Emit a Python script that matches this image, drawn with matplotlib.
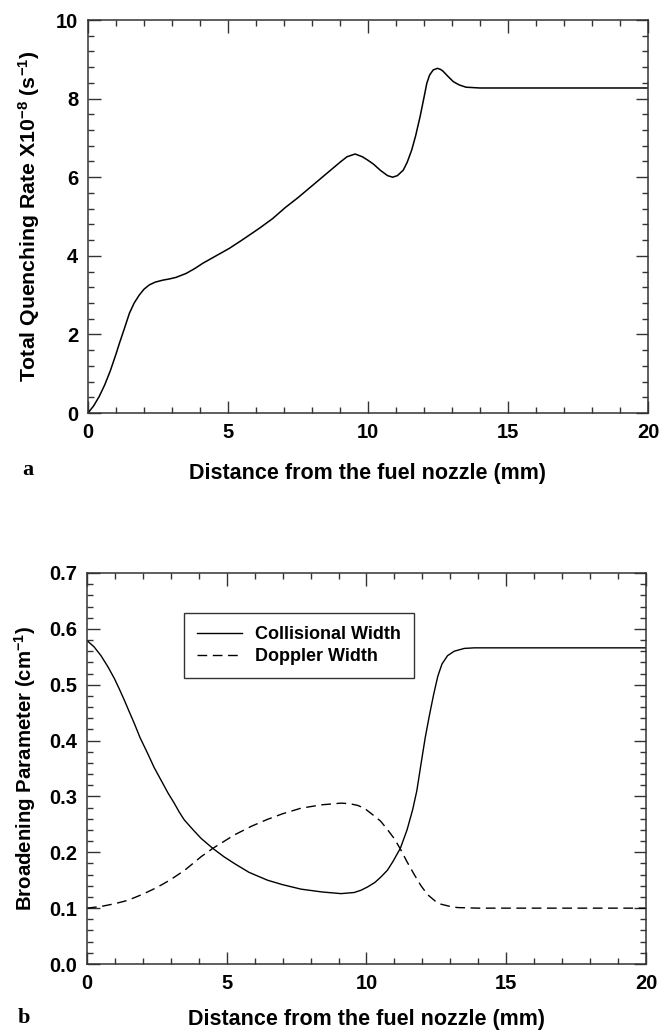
import numpy as np
import matplotlib
matplotlib.use('Agg')
import matplotlib.pyplot as plt
from matplotlib.ticker import MultipleLocator, FormatStrFormatter

plt.rcParams['font.family'] = ['Liberation Sans', 'DejaVu Sans']
plt.rcParams['font.weight'] = 'bold'
plt.rcParams['axes.labelweight'] = 'bold'
plt.rcParams['mathtext.fontset'] = 'custom'
plt.rcParams['mathtext.rm'] = 'Liberation Sans:bold'
plt.rcParams['mathtext.bf'] = 'Liberation Sans:bold'
plt.rcParams['mathtext.default'] = 'bf'

# panel a: total quenching rate
xa = [0, 0.2, 0.4, 0.6, 0.8, 1.0, 1.12, 1.3, 1.48, 1.65, 1.83, 2.0, 2.19, 2.4,
      2.67, 2.9, 3.14, 3.5, 3.8, 4.1, 4.5, 5.05, 5.5, 6.12, 6.6, 7.05, 7.5, 8.0,
      8.4, 8.7, 9.0, 9.25, 9.54, 9.8, 10.0, 10.2, 10.45, 10.7, 10.88, 11.05,
      11.26, 11.4, 11.56, 11.7, 11.86, 12.0, 12.1, 12.2, 12.33, 12.48, 12.6,
      12.69, 12.85, 13.05, 13.25, 13.5, 14.0, 16.0, 20.0]
quench = [0, 0.18, 0.42, 0.72, 1.08, 1.5, 1.77, 2.15, 2.54, 2.8, 3.0, 3.15, 3.26,
          3.33, 3.38, 3.41, 3.45, 3.55, 3.67, 3.81, 3.97, 4.19, 4.4, 4.70, 4.95,
          5.23, 5.48, 5.78, 6.02, 6.2, 6.38, 6.52, 6.59, 6.52, 6.43, 6.33, 6.17,
          6.04, 6.0, 6.04, 6.18, 6.38, 6.69, 7.05, 7.54, 8.03, 8.39, 8.6, 8.73,
          8.77, 8.74, 8.69, 8.57, 8.43, 8.35, 8.29, 8.27, 8.27, 8.27]

# panel b: broadening parameters
xc = [0, 0.25, 0.5, 0.75, 0.98, 1.15, 1.33, 1.5, 1.69, 1.9, 2.17, 2.4, 2.65, 2.9,
      3.12, 3.3, 3.48, 3.8, 4.08, 4.5, 4.9, 5.27, 5.8, 6.46, 7.0, 7.66, 8.4,
      9.09, 9.56, 9.8, 10.04, 10.3, 10.52, 10.75, 10.94, 11.21, 11.45, 11.65,
      11.8, 11.95, 12.1, 12.25, 12.4, 12.55, 12.7, 12.9, 13.14, 13.5, 13.86, 20.0]
collisional = [0.579, 0.568, 0.552, 0.532, 0.511, 0.493, 0.473, 0.453, 0.431,
               0.405, 0.377, 0.352, 0.329, 0.306, 0.288, 0.272, 0.258, 0.240,
               0.225, 0.207, 0.192, 0.180, 0.164, 0.150, 0.142, 0.134, 0.129,
               0.126, 0.128, 0.132, 0.138, 0.146, 0.156, 0.168, 0.183, 0.207,
               0.240, 0.276, 0.31, 0.358, 0.405, 0.445, 0.482, 0.515, 0.537,
               0.552, 0.560, 0.565, 0.566, 0.566]

xd = [0, 0.5, 1.0, 1.46, 2.0, 2.5, 2.96, 3.5, 4.08, 4.5, 5.27, 5.9, 6.46, 7.0,
      7.66, 8.4, 9.09, 9.4, 9.68, 9.92, 10.28, 10.5, 10.76, 11.0, 11.21, 11.45,
      11.71, 11.95, 12.19, 12.45, 12.67, 13.0, 13.26, 14.0, 20.0]
doppler = [0.100, 0.103, 0.108, 0.114, 0.125, 0.137, 0.150, 0.168, 0.192, 0.207,
           0.231, 0.247, 0.259, 0.269, 0.279, 0.285, 0.288, 0.287, 0.284, 0.279,
           0.265, 0.256, 0.240, 0.224, 0.206, 0.183, 0.160, 0.140, 0.124, 0.113,
           0.107, 0.103, 0.101, 0.100, 0.100]

W, H = 659, 1031
fig = plt.figure(figsize=(W / 100, H / 100), dpi=100)
ax1 = fig.add_axes([88 / W, 1 - 413 / H, 560 / W, 393 / H])
ax2 = fig.add_axes([87 / W, 1 - 964 / H, 559 / W, 391 / H])

spine_c = '#333333'


def style(ax):
    for s in ax.spines.values():
        s.set_linewidth(1.1)
        s.set_color(spine_c)
    ax.tick_params(which='both', direction='in', top=True, right=True,
                   color=spine_c, width=1.0, labelsize=14.5, pad=7)
    ax.tick_params(which='major', length=9)
    ax.tick_params(which='minor', length=4)
    ax.xaxis.set_major_locator(MultipleLocator(5))
    ax.xaxis.set_minor_locator(MultipleLocator(1))
    ax.set_xlim(0, 20)


# panel a
ax1.plot(xa, quench, color='black', lw=1.1)
style(ax1)
ax1.set_ylim(0, 10)
ax1.yaxis.set_major_locator(MultipleLocator(2))
ax1.yaxis.set_minor_locator(MultipleLocator(0.4))
ax1.set_xlabel('Distance from the fuel nozzle (mm)', fontsize=15.5, labelpad=15)
ax1.set_ylabel(r'Total Quenching Rate X10$^{-8}$ (s$^{-1}$)', fontsize=15.3, labelpad=10)

# panel b
ax2.plot(xc, collisional, color='black', lw=1.0, label='Collisional Width')
ax2.plot(xd, doppler, color='black', lw=1.0, linestyle=(0, (7, 4)), label='Doppler Width')
style(ax2)
ax2.set_ylim(0, 0.7)
ax2.yaxis.set_major_locator(MultipleLocator(0.1))
ax2.yaxis.set_minor_locator(MultipleLocator(0.02))
ax2.yaxis.set_major_formatter(FormatStrFormatter('%.1f'))
ax2.set_xlabel('Distance from the fuel nozzle (mm)', fontsize=15.5, labelpad=12)
ax2.set_ylabel(r'Broadening Parameter (cm$^{-1}$)', fontsize=14.7, labelpad=8)

leg = ax2.legend(loc='upper left', bbox_to_anchor=(0.173, 0.898), fontsize=13,
                 handlelength=2.5, handletextpad=0.7, borderpad=0.75,
                 labelspacing=0.25, fancybox=False, framealpha=1,
                 edgecolor=spine_c, borderaxespad=0)
leg.get_frame().set_linewidth(1.0)

fig.text(22 / W, 1 - 470 / H, 'a', family='Liberation Serif', fontsize=16,
         weight='bold', va='center', ha='left')
fig.text(18 / W, 1 - 1018 / H, 'b', family='Liberation Serif', fontsize=16,
         weight='bold', va='center', ha='left')

fig.savefig('out.png', dpi=100)
